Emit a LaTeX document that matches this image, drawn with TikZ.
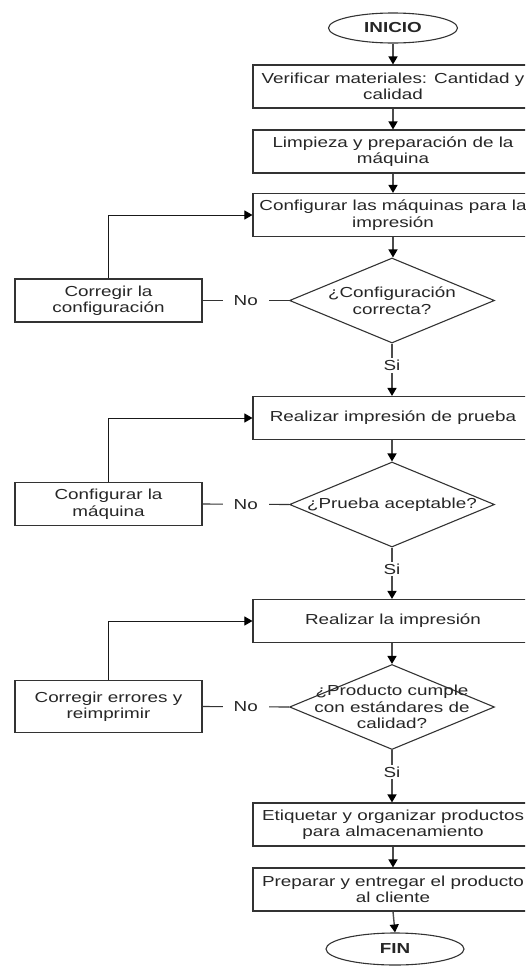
\documentclass[tikz,border=0pt]{standalone}
\usepackage{fontspec}
\setmainfont[FakeStretch=1.3]{Liberation Sans}
\usetikzlibrary{shapes.geometric,arrows.meta}

\begin{document}
\begin{tikzpicture}[x=1pt,y=1pt,
  every node/.style={font=\fontsize{14.5}{16.5}\selectfont, align=center, text=black!85},
  proc/.style={draw=black!80, line width=1.1pt, minimum width=280, minimum height=43, inner sep=0pt, fill=white},
  fixbox/.style={draw=black!80, line width=1.1pt, minimum width=187, minimum height=43, inner sep=0pt, fill=white},
  term/.style={ellipse, draw=black!80, line width=1.1pt, minimum width=129, minimum height=30, inner sep=0pt, fill=white, font=\fontsize{14.5}{16.5}\selectfont\bfseries},
  dia/.style={diamond, draw=black!80, line width=1.1pt, minimum width=205, minimum height=85, inner sep=0pt, fill=white},
  flow/.style={draw=black!70, line width=1.4pt, -{Triangle[length=8pt,width=9pt,color=black]}},
  back/.style={draw=black!90, line width=1pt, -{Triangle[length=8pt,width=9pt,color=black]}},
  plain/.style={draw=black!80, line width=1.1pt},
  lbl/.style={fill=white, inner sep=2pt},
  nolbl/.style={fill=white, inner xsep=11pt, inner ysep=2pt}
]
\path[use as bounding box] (0,0) rectangle (525,-972);
\clip (0,0) rectangle (525,-972);

% main column
\node[term] (ini) at (393,-28) {INICIO};
\node[proc] (b1) at (393,-86.5) {Verificar materiales: Cantidad y\\calidad};
\node[proc] (b2) at (393,-151.5) {Limpieza y preparación de la\\máquina};
\node[proc] (b3) at (393,-215) {Configurar las máquinas para la\\impresión};
\node[dia] (d1) at (392,-300.5) {};
\node (d1t) at (d1) {¿Configuración\\correcta?};
\node[proc] (b4) at (393,-418) {Realizar impresión de prueba};
\node[dia] (d2) at (392,-504.5) {};
\node (d2t) at (d2) {¿Prueba aceptable?};
\node[proc] (b5) at (393,-621) {Realizar la impresión};
\node[dia] (d3) at (392,-707) {};
\node (d3t) at (d3) {¿Producto cumple\\con estándares de\\calidad?};
\node[proc] (b6) at (393,-824.5) {Etiquetar y organizar productos\\para almacenamiento};
\node[proc] (b7) at (393,-889.5) {Preparar y entregar el producto\\al cliente};
\node[term, minimum width=138, minimum height=32] (fin) at (395,-949) {FIN};

% correction boxes
\node[fixbox] (c1) at (108.5,-300.5) {Corregir la\\configuración};
\node[fixbox] (c2) at (108.5,-504) {Configurar la\\máquina};
\node[fixbox, minimum height=52] (c3) at (108.5,-706.5) {Corregir errores y\\reimprimir};

% forward flow
\draw[flow] (ini) -- (b1);
\draw[flow] (b1) -- (b2);
\draw[flow] (b2) -- (b3);
\draw[flow] (b3.south) -- (b3.south |- d1.north);
\draw[flow] (d1.south) -- node[lbl, pos=0.42] {Si} (b4.north -| d1.south);
\draw[flow] (b4.south -| d2.north) -- (d2.north);
\draw[flow] (d2.south) -- node[lbl, pos=0.42] {Si} (b5.north -| d2.south);
\draw[flow] (b5.south -| d3.north) -- (d3.north);
\draw[flow] (d3.south) -- node[lbl, pos=0.42] {Si} (b6.north -| d3.south);
\draw[flow] (b6) -- (b7);
\draw[flow] (b7.south) -- (fin.north);

% rejection branches
\draw[plain] (d1.west) -- node[nolbl] {No} (c1.east);
\draw[plain] (d2.west) -- node[nolbl] {No} (c2.east);
\draw[plain] (d3.west) -- node[nolbl] {No} (c3.east);

% return loops
\draw[back] (c1.north) |- (b3.west);
\draw[back] (c2.north) |- (b4.west);
\draw[back] (c3.north) |- (b5.west);
\end{tikzpicture}
\end{document}
